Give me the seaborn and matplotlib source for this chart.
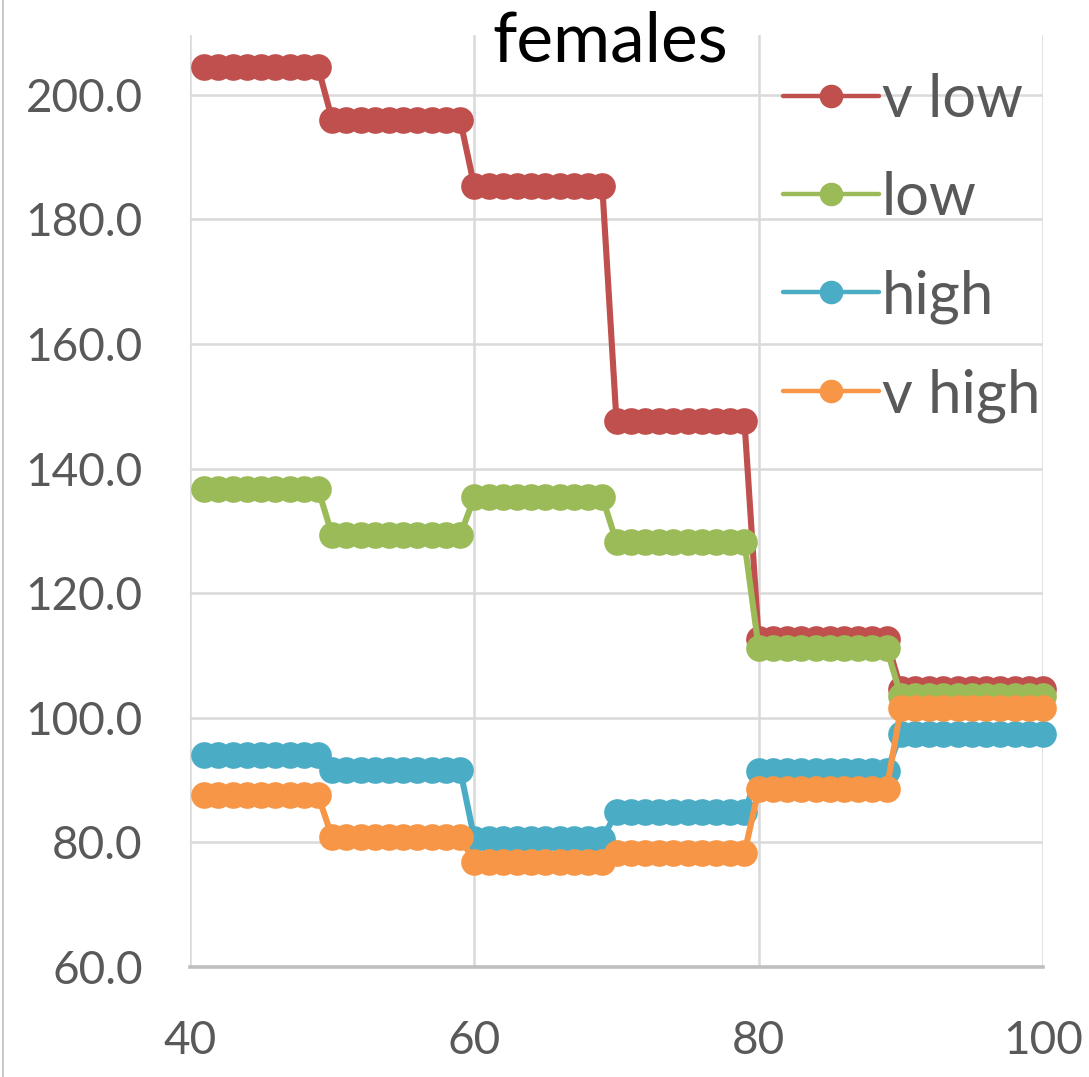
import numpy as np
import pandas as pd
import matplotlib
matplotlib.use("Agg")
import matplotlib.pyplot as plt
import seaborn as sns
from matplotlib.lines import Line2D
from matplotlib.ticker import FormatStrFormatter

# ---- data ----
ages = list(range(41, 101))
band_starts = [41, 50, 60, 70, 80, 90]
band_ends = [49, 59, 69, 79, 89, 100]
v_low = [204.5, 196.0, 185.3, 147.6, 112.6, 104.6]
low = [136.8, 129.3, 135.4, 128.2, 111.2, 103.5]
high = [94.0, 91.7, 80.6, 84.8, 91.4, 97.4]
v_high = [87.6, 80.8, 76.9, 78.3, 88.5, 101.5]
series_names = ["v low", "low", "high", "v high"]
colors = ["#C0504D", "#9BBB59", "#4BACC6", "#F79646"]
title = "females"
x_ticks = [40, 60, 80, 100]
y_ticks = [60, 80, 100, 120, 140, 160, 180, 200]


def expand(vals):
    out = []
    for s, e, v in zip(band_starts, band_ends, vals):
        out += [v] * (e - s + 1)
    return out


rows = []
for name, vals in zip(series_names, [v_low, low, high, v_high]):
    for a, v in zip(ages, expand(vals)):
        rows.append({"age": a, "value": v, "series": name})
df = pd.DataFrame(rows)

sns.set_theme(style="white")
plt.rcParams["font.family"] = ["Lato", "DejaVu Sans"]

fig = plt.figure(figsize=(10.89, 10.77), dpi=100)
ax = fig.add_axes([190 / 1089, 1 - 967 / 1077, (1043 - 190) / 1089, (967 - 35) / 1077])

sns.lineplot(data=df, x="age", y="value", hue="series", hue_order=series_names,
             palette=colors, marker="o", markersize=19.2, markeredgewidth=0,
             linewidth=4.4, legend=False, ax=ax, zorder=3, clip_on=False)

ax.set_xlim(40, 100)
ax.set_ylim(60, 209.6)
ax.set_xticks(x_ticks)
ax.set_yticks(y_ticks)
ax.yaxis.set_major_formatter(FormatStrFormatter("%.1f"))
ax.grid(True, color="#D9D9D9", linewidth=1.8, zorder=0)
ax.set_axisbelow(True)
for s in ["left", "right", "top"]:
    ax.spines[s].set_visible(False)
ax.spines["bottom"].set_color("#BFBFBF")
ax.spines["bottom"].set_linewidth(2.6)
ax.spines["bottom"].set_zorder(1)
ax.tick_params(axis="both", length=0, labelsize=33, labelcolor="#595959")
ax.tick_params(axis="y", pad=34)
ax.tick_params(axis="x", pad=38)
ax.set_xlabel("")
ax.set_ylabel("")

handles = [Line2D([0], [0], color=c, linewidth=3.2, marker="o", markersize=17,
                  markeredgewidth=0) for c in colors]
leg = ax.legend(handles, series_names, loc="upper left",
                bbox_to_anchor=(783 / 1089, 1 - 73 / 1077), bbox_transform=fig.transFigure,
                frameon=False, fontsize=43, handlelength=1.6, handletextpad=0.05,
                labelspacing=0.74, borderaxespad=0.0, borderpad=0.0, labelcolor="#595959")

fig.text(610 / 1089, 1 - 61 / 1077, title, ha="center", va="baseline", fontsize=50, color="black")
fig.add_artist(Line2D([0.003, 0.003], [0.0, 1.0], color="#BFBFBF", linewidth=1.2))

fig.savefig("out.png", dpi=100)
